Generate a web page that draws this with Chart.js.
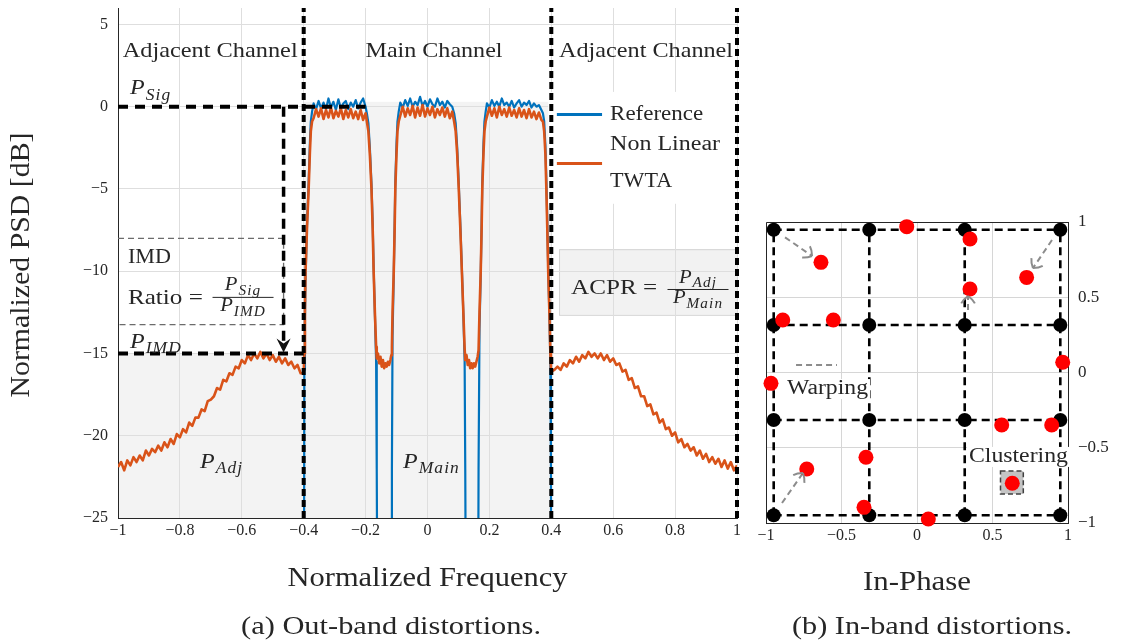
<!DOCTYPE html>
<html>
<head>
<meta charset="utf-8">
<title>Out-band and in-band distortions</title>
<script src="https://cdn.jsdelivr.net/npm/chart.js@4.4.1/dist/chart.umd.min.js"></script>
<style>
  html, body { margin: 0; padding: 0; background: #fff; }
  #psd { position: absolute; left: 0; top: 0; }
  #iq { position: absolute; left: 750px; top: 0; }
</style>
</head>
<body>
<canvas id="psd" width="750" height="643"></canvas>
<canvas id="iq" width="373" height="643"></canvas>
<script>
// ---------- (a) PSD, normalized frequency vs dB ----------
const freqAdjL = [
  -1.00, -0.99, -0.98, -0.97, -0.96, -0.95, -0.94, -0.93, -0.92, -0.91,
  -0.90, -0.89, -0.88, -0.87, -0.86, -0.85, -0.84, -0.83, -0.82, -0.81,
  -0.80, -0.79, -0.78, -0.77, -0.76, -0.75, -0.74, -0.73, -0.72, -0.71,
  -0.70, -0.69, -0.68, -0.67, -0.66, -0.65, -0.64, -0.63, -0.62, -0.61,
  -0.60, -0.59, -0.58, -0.57, -0.56, -0.55, -0.54, -0.53, -0.52, -0.51,
  -0.50, -0.49, -0.48, -0.47, -0.46, -0.45, -0.44, -0.43, -0.42, -0.41
];
const twtaAdjL = [
  -21.9, -21.6, -22.1, -21.5, -21.8, -21.3, -21.6, -21.2, -21.5, -20.9,
  -21.2, -20.8, -21.0, -20.6, -20.9, -20.4, -20.7, -20.2, -20.5, -19.9,
  -20.1, -19.6, -19.8, -19.2, -19.4, -18.9, -18.9, -18.4, -18.5, -17.9,
  -17.8, -17.6, -17.1, -17.2, -16.6, -16.7, -16.2, -16.3, -15.8, -15.9,
  -15.4, -15.6, -15.1, -15.4, -15.0, -15.3, -14.9, -15.3, -15.0, -15.4,
  -15.1, -15.5, -15.2, -15.6, -15.3, -15.7, -15.5, -15.9, -15.7, -16.2
];

// main channel: three carriers and the two gaps between them
const freqMain = [
  -0.400, -0.398, -0.396, -0.394, -0.389, -0.384, -0.380, -0.377, -0.373,
  -0.368, -0.360, -0.352, -0.344, -0.336, -0.328, -0.320, -0.312, -0.304, -0.296, -0.288,
  -0.280, -0.272, -0.264, -0.256, -0.248, -0.240, -0.232, -0.224, -0.216, -0.208, -0.200,
  -0.196, -0.191, -0.186, -0.181, -0.177, -0.174, -0.170, -0.166, -0.164,
  -0.160, -0.156, -0.152, -0.148, -0.144, -0.140, -0.136, -0.132, -0.128, -0.124, -0.120, -0.117, -0.115,
  -0.113, -0.109, -0.106, -0.104, -0.100, -0.097, -0.093,
  -0.088, -0.080, -0.072, -0.064, -0.056, -0.048, -0.040, -0.032, -0.024, -0.016, -0.008,
  0.000, 0.008, 0.016, 0.024, 0.032, 0.040, 0.048, 0.056, 0.064, 0.072, 0.080,
  0.086, 0.091, 0.096, 0.101, 0.106, 0.111, 0.116, 0.120, 0.122,
  0.126, 0.130, 0.134, 0.138, 0.142, 0.146, 0.150, 0.154, 0.158, 0.162, 0.165,
  0.168, 0.172, 0.175, 0.177, 0.181, 0.184, 0.188,
  0.192, 0.200, 0.208, 0.216, 0.224, 0.232, 0.240, 0.248, 0.256, 0.264, 0.272, 0.280,
  0.288, 0.296, 0.304, 0.312, 0.320, 0.328, 0.336, 0.344, 0.352, 0.360, 0.368,
  0.373, 0.377, 0.381, 0.384, 0.387, 0.390, 0.394, 0.397, 0.399, 0.400
];
const twtaMain = [
  -16.2, -15.0, -12.5, -10.0, -7.2, -5.0, -2.8, -1.5, -0.9,
  -0.7, -0.15, -0.6, -0.1, -0.75, -0.2, -0.65, -0.05, -0.7, -0.25, -0.6,
  -0.1, -0.75, -0.2, -0.65, -0.15, -0.7, -0.3, -0.75, -0.2, -0.8, -0.4,
  -0.9, -1.5, -3.0, -5.0, -7.5, -10.0, -12.5, -14.6, -15.3,
  -15.0, -15.6, -15.2, -15.8, -15.4, -15.9, -15.6, -15.8, -15.5, -15.7, -15.4, -15.1, -14.6,
  -12.5, -10.0, -7.3, -5.0, -2.8, -1.5, -0.9,
  -0.55, 0.0, -0.6, -0.1, -0.5, 0.05, -0.65, -0.05, -0.55, 0.1, -0.6,
  -0.1, -0.5, 0.0, -0.65, -0.15, -0.5, -0.05, -0.6, -0.1, -0.7, -0.3,
  -0.9, -1.5, -2.9, -5.0, -7.4, -10.0, -12.6, -14.7, -15.4,
  -15.1, -15.7, -15.4, -15.9, -15.6, -15.9, -15.6, -15.8, -15.5, -15.2, -14.8,
  -12.5, -10.0, -7.3, -5.0, -2.8, -1.5, -0.9,
  -0.6, -0.05, -0.55, -0.1, -0.65, 0.0, -0.5, -0.15, -0.6, -0.05, -0.55, -0.2,
  -0.65, -0.1, -0.6, -0.2, -0.7, -0.15, -0.65, -0.3, -0.75, -0.35, -0.8,
  -0.9, -1.5, -2.9, -5.0, -7.4, -10.0, -12.6, -15.0, -16.0, -16.1
];
const refMain = [
  -40, -16.0, -12.8, -10.3, -7.0, -4.6, -2.2, -0.9, -0.3,
  0.2, -0.15, 0.35, -0.1, 0.25, -0.15, 0.5, -0.05, 0.3, -0.2, 0.45,
  -0.1, 0.2, 0.35, -0.15, 0.25, 0.0, 0.4, -0.1, 0.25, 0.5, 0.0,
  -0.4, -1.0, -2.6, -4.7, -7.2, -9.8, -12.6, -15.5, -22.0,
  -40, -40, -40, -40, -40, -40, -40, -40, -40, -40, -40, -40, -22.0,
  -14.0, -10.2, -7.0, -4.6, -2.2, -0.9, -0.3,
  0.25, -0.05, 0.4, 0.05, 0.5, 0.0, 0.3, 0.1, 0.6, 0.05, 0.35,
  0.0, 0.45, 0.15, 0.0, 0.5, 0.1, 0.3, -0.05, 0.35, 0.15, 0.0,
  -0.4, -1.0, -2.5, -4.7, -7.1, -9.8, -12.7, -15.5, -22.0,
  -40, -40, -40, -40, -40, -40, -40, -40, -40, -40, -22.0,
  -13.5, -10.2, -7.0, -4.6, -2.2, -0.9, -0.3,
  0.2, -0.05, 0.4, 0.05, 0.3, 0.0, 0.5, 0.1, 0.25, 0.0, 0.35, -0.05,
  0.2, 0.4, 0.0, 0.25, 0.1, 0.35, -0.05, 0.2, 0.0, 0.1, -0.2,
  -0.4, -0.9, -2.4, -4.5, -7.0, -9.8, -12.8, -15.5, -22.0, -40
];

const freqAdjR = [
  0.41, 0.42, 0.43, 0.44, 0.45, 0.46, 0.47, 0.48, 0.49, 0.50,
  0.51, 0.52, 0.53, 0.54, 0.55, 0.56, 0.57, 0.58, 0.59, 0.60,
  0.61, 0.62, 0.63, 0.64, 0.65, 0.66, 0.67, 0.68, 0.69, 0.70,
  0.71, 0.72, 0.73, 0.74, 0.75, 0.76, 0.77, 0.78, 0.79, 0.80,
  0.81, 0.82, 0.83, 0.84, 0.85, 0.86, 0.87, 0.88, 0.89, 0.90,
  0.91, 0.92, 0.93, 0.94, 0.95, 0.96, 0.97, 0.98, 0.99, 1.00
];
const twtaAdjR = [
  -16.0, -15.8, -16.0, -15.6, -15.8, -15.4, -15.6, -15.2, -15.5, -15.1,
  -15.3, -14.9, -15.2, -15.0, -15.3, -15.0, -15.4, -15.1, -15.5, -15.3,
  -15.7, -15.6, -16.1, -16.0, -16.6, -16.5, -17.1, -17.0, -17.6, -17.6,
  -18.2, -18.1, -18.7, -18.6, -19.2, -19.0, -19.6, -19.5, -20.0, -19.8,
  -20.4, -20.2, -20.7, -20.5, -20.9, -20.7, -21.2, -20.9, -21.4, -21.1,
  -21.6, -21.3, -21.7, -21.4, -21.9, -21.5, -22.0, -21.6, -22.1, -21.8
];

const freqTicks = [-1, -0.8, -0.6, -0.4, -0.2, 0, 0.2, 0.4, 0.6, 0.8, 1];
const psdTicks = [-25, -20, -15, -10, -5, 0, 5];
const chanEdges = [-0.4, 0.4, 1];   // main channel limits and band end
const pSigLevel = 0;
const pImdLevel = -15;
const imdMarkFreq = -0.465;
const imdBox = [-8.0, -13.25];

// ---------- (b) 16-QAM constellation ----------
const qamLevels = [-0.949, -0.316, 0.316, 0.949];
const rxI = [-0.068, 0.351, -0.636, 0.726, 0.351, -0.889, -0.554, 0.965, -0.967, 0.561, 0.892, -0.338, -0.730, 0.631, -0.351, 0.075];
const rxQ = [0.969, 0.887, 0.732, 0.632, 0.555, 0.349, 0.349, 0.068, -0.072, -0.349, -0.349, -0.563, -0.641, -0.736, -0.896, -0.973];
const arrowFromI = [-0.874, 0.894, 0.338, -0.894];
const arrowFromQ = [0.898, 0.880, 0.415, -0.867];
const arrowToI = [-0.695, 0.768, 0.338, -0.755];
const arrowToQ = [0.774, 0.694, 0.508, -0.668];
const iqTicks = [-1, -0.5, 0, 0.5, 1];

const FONT = '"Liberation Serif", "Times New Roman", serif';
const INK = '#262626';
const WIDE = 1.09;
const BLUE = '#0072BD';
const ORANGE = '#D95319';

function minusFmt(v) {
  const r = Math.round(v * 10) / 10;
  return (r < 0 ? '\u2212' : '') + Math.abs(r);
}

function textWidth(ctx, str, size, italic, spacing) {
  ctx.save();
  ctx.font = (italic ? 'italic ' : '') + size + 'px ' + FONT;
  ctx.letterSpacing = (spacing || 0) + 'px';
  const w = ctx.measureText(str).width;
  ctx.restore();
  return w;
}

// text slightly widened, or squeezed to a given width
function label(ctx, str, x, y, size, o = {}) {
  const raw = textWidth(ctx, str, size, o.italic, o.spacing);
  const sx = o.width ? o.width / raw : WIDE;
  const w = raw * sx;
  const x0 = o.align === 'center' ? x - w / 2 : o.align === 'right' ? x - w : x;
  ctx.save();
  ctx.font = (o.italic ? 'italic ' : '') + size + 'px ' + FONT;
  ctx.letterSpacing = (o.spacing || 0) + 'px';
  ctx.fillStyle = o.color || INK;
  ctx.textAlign = 'left';
  ctx.textBaseline = 'middle';
  ctx.translate(x0, y);
  ctx.scale(sx, 1);
  ctx.fillText(str, 0, 0);
  ctx.restore();
  return w;
}

// P with italic subscript (P_Sig, P_IMD ...)
function pSub(ctx, sub, x, y, size, align) {
  const s = Math.round(size * 0.72);
  const wP = textWidth(ctx, 'P', size, true) * WIDE;
  const wS = textWidth(ctx, sub, s, true, 1) * WIDE;
  const w = wP + 1 + wS;
  const x0 = align === 'center' ? x - w / 2 : x;
  label(ctx, 'P', x0, y, size, { italic: true });
  label(ctx, sub, x0 + wP + 1, y + size * 0.32, s, { italic: true, spacing: 1 });
  return w;
}

function frac(ctx, num, den, cx, cy, size, barW) {
  pSub(ctx, num, cx, cy - size * 0.6, size, 'center');
  pSub(ctx, den, cx, cy + size * 0.5, size, 'center');
  ctx.save();
  ctx.strokeStyle = INK;
  ctx.lineWidth = 1;
  ctx.beginPath();
  ctx.moveTo(cx - barW / 2, cy + 0.5);
  ctx.lineTo(cx + barW / 2, cy + 0.5);
  ctx.stroke();
  ctx.restore();
}

function dashed(data, color, width, dash, order) {
  return {
    data, showLine: true, pointRadius: 0, borderColor: color, borderWidth: width,
    borderDash: dash, clip: false, order
  };
}

function seg(x0, y0, x1, y1) {
  return [{ x: x0, y: y0 }, { x: x1, y: y1 }];
}

// ---------- left chart ----------
const freqAll = freqAdjL.concat(freqMain, freqAdjR);
const twtaAll = twtaAdjL.concat(twtaMain, twtaAdjR);

const psdDecor = {
  id: 'psdDecor',
  beforeDraw(chart) {
    const { ctx, scales: { x, y } } = chart;
    const rect = (x0, x1, y0, y1) => {
      const l = x.getPixelForValue(x0), r = x.getPixelForValue(x1);
      const t = y.getPixelForValue(y1), b = y.getPixelForValue(y0);
      return [l, t, r - l, b - t];
    };
    ctx.save();
    ctx.fillStyle = '#fff';
    ctx.fillRect(0, 0, chart.width, chart.height);
    // integration areas for P_Adj and P_Main
    ctx.fillStyle = '#f3f3f3';
    ctx.fillRect(...rect(-1, chanEdges[0], -25, pImdLevel));
    ctx.fillRect(...rect(chanEdges[0], chanEdges[1], -25, 0.3));
    // ACPR box
    ctx.fillStyle = '#f2f2f2';
    ctx.strokeStyle = '#d4d4d4';
    ctx.lineWidth = 1;
    const a = rect(0.425, 1, -12.65, -8.66);
    ctx.fillRect(...a);
    ctx.strokeRect(a[0] + 0.5, a[1] + 0.5, a[2], a[3]);
    ctx.restore();
  },
  beforeDatasetsDraw(chart) {
    const { ctx, scales: { x, y } } = chart;
    // legend background
    const l = x.getPixelForValue(0.39), r = x.getPixelForValue(0.995);
    const t = y.getPixelForValue(0.9), b = y.getPixelForValue(-5.9);
    ctx.save();
    ctx.fillStyle = '#fff';
    ctx.fillRect(l, t, r - l, b - t);
    ctx.restore();
  },
  afterDatasetsDraw(chart) {
    const { ctx, scales: { x, y } } = chart;
    const X = v => x.getPixelForValue(v);
    const Y = v => y.getPixelForValue(v);

    // arrow head on the IMD marker
    const tx = X(imdMarkFreq), ty = Y(pImdLevel) - 1;
    ctx.save();
    ctx.fillStyle = '#111';
    ctx.beginPath();
    ctx.moveTo(tx, ty);
    ctx.lineTo(tx - 7, ty - 14);
    ctx.lineTo(tx, ty - 9);
    ctx.lineTo(tx + 7, ty - 14);
    ctx.closePath();
    ctx.fill();
    ctx.restore();

    label(ctx, 'Adjacent Channel', X(-0.985), Y(3.4), 22, { width: 175 });
    label(ctx, 'Main Channel', X(0.021), Y(3.4), 22, { align: 'center', width: 137 });
    label(ctx, 'Adjacent Channel', X(0.425), Y(3.4), 22, { width: 174 });

    pSub(ctx, 'Sig', X(-0.961), Y(1.1), 22);
    label(ctx, 'IMD', X(-0.968), Y(-9.2), 20, { width: 43 });
    label(ctx, 'Ratio =', X(-0.968), Y(-11.62), 22, { width: 75 });
    frac(ctx, 'Sig', 'IMD', X(-0.596), Y(-11.56), 19, 61);
    pSub(ctx, 'IMD', X(-0.961), Y(-14.3), 22);
    pSub(ctx, 'Adj', X(-0.735), Y(-21.6), 22);
    pSub(ctx, 'Main', X(-0.079), Y(-21.6), 22);

    label(ctx, 'ACPR =', X(0.464), Y(-11.02), 22, { width: 86 });
    frac(ctx, 'Adj', 'Main', X(0.874), Y(-11.08), 19, 61);

    // legend
    ctx.save();
    ctx.lineWidth = 3;
    ctx.strokeStyle = BLUE;
    ctx.beginPath();
    ctx.moveTo(X(0.418), Y(-0.48));
    ctx.lineTo(X(0.564), Y(-0.48));
    ctx.stroke();
    ctx.strokeStyle = ORANGE;
    ctx.beginPath();
    ctx.moveTo(X(0.418), Y(-3.45));
    ctx.lineTo(X(0.564), Y(-3.45));
    ctx.stroke();
    ctx.restore();
    label(ctx, 'Reference', X(0.59), Y(-0.48), 20, { width: 93 });
    label(ctx, 'Non Linear', X(0.59), Y(-2.3), 20, { width: 110 });
    label(ctx, 'TWTA', X(0.59), Y(-4.54), 20, { width: 62 });
  },
  afterDraw(chart) {
    const ctx = chart.ctx;
    const a = chart.chartArea;
    const mid = (a.left + a.right) / 2;
    ctx.save();
    ctx.translate(22, (a.top + a.bottom) / 2 + 2);
    ctx.rotate(-Math.PI / 2);
    label(ctx, 'Normalized PSD [dB]', 0, 0, 28, { align: 'center', width: 265 });
    ctx.restore();
    label(ctx, 'Normalized Frequency', mid, 579, 28, { align: 'center', width: 280 });
    label(ctx, '(a) Out-band distortions.', 391, 627, 25, { align: 'center', width: 300 });
  }
};

new Chart(document.getElementById('psd'), {
  type: 'scatter',
  data: {
    datasets: [
      {
        label: 'Non Linear TWTA',
        data: freqAll.map((f, i) => ({ x: f, y: twtaAll[i] })),
        showLine: true, pointRadius: 0, borderColor: ORANGE, borderWidth: 2.6,
        borderJoinStyle: 'round', clip: 0, order: 2
      },
      {
        label: 'Reference',
        data: freqMain.map((f, i) => ({ x: f, y: refMain[i] })),
        showLine: true, pointRadius: 0, borderColor: BLUE, borderWidth: 2.2,
        borderJoinStyle: 'round', clip: 0, order: 3
      },
      // channel boundaries
      ...chanEdges.map(e => dashed(seg(e, -25, e, 6), '#000', 4, [7, 4], 1)),
      dashed(seg(-1, pSigLevel, -0.2, pSigLevel), '#000', 4, [10, 7], 1),
      dashed(seg(-1, pImdLevel, chanEdges[0], pImdLevel), '#000', 4, [10, 6], 1),
      dashed(seg(imdMarkFreq, pSigLevel, imdMarkFreq, pImdLevel + 0.6), '#000', 3.5, [10, 6], 1),
      dashed([
        { x: -1, y: imdBox[0] }, { x: imdMarkFreq, y: imdBox[0] },
        { x: imdMarkFreq, y: imdBox[1] }, { x: -1, y: imdBox[1] }
      ], '#6b6b6b', 1.3, [6, 4], 1)
    ]
  },
  options: {
    responsive: false,
    animation: false,
    events: [],
    layout: { padding: { left: 0, right: 13, top: 8, bottom: 98 } },
    plugins: { legend: { display: false }, tooltip: { enabled: false } },
    scales: {
      x: {
        type: 'linear', min: -1, max: 1,
        afterFit: s => { s.height = 27; },
        afterBuildTicks: s => { s.ticks = freqTicks.map(v => ({ value: v })); },
        grid: { color: '#dedede', drawTicks: false },
        border: { color: INK, width: 1 },
        ticks: { padding: 5, maxRotation: 0, autoSkip: false, color: INK,
          font: { family: FONT, size: 16, lineHeight: 1 }, callback: minusFmt }
      },
      y: {
        type: 'linear', min: -25, max: 6,
        afterFit: s => { s.width = 118; },
        afterBuildTicks: s => { s.ticks = psdTicks.map(v => ({ value: v })); },
        grid: { color: '#dedede', drawTicks: true, tickLength: 10, tickColor: 'rgba(0,0,0,0)' },
        border: { color: INK, width: 1 },
        ticks: { padding: 0, color: INK, font: { family: FONT, size: 16, lineHeight: 1 }, callback: minusFmt }
      }
    }
  },
  plugins: [psdDecor]
});

// ---------- right chart ----------
const idealPts = [];
qamLevels.forEach(q => qamLevels.forEach(i => idealPts.push({ x: i, y: q })));

const iqDecor = {
  id: 'iqDecor',
  beforeDraw(chart) {
    const ctx = chart.ctx;
    ctx.save();
    ctx.fillStyle = '#fff';
    ctx.fillRect(0, 0, chart.width, chart.height);
    ctx.restore();
  },
  beforeDatasetsDraw(chart) {
    const { ctx, chartArea: a, scales: { x, y } } = chart;
    ctx.save();
    ctx.strokeStyle = INK;
    ctx.lineWidth = 1;
    ctx.beginPath();
    ctx.moveTo(a.left + 0.5, a.bottom);
    ctx.lineTo(a.left + 0.5, a.top + 0.5);
    ctx.lineTo(a.right, a.top + 0.5);
    ctx.stroke();
    // clustering marker box
    const l = x.getPixelForValue(0.553), r = x.getPixelForValue(0.704);
    const t = y.getPixelForValue(-0.655), b = y.getPixelForValue(-0.807);
    ctx.fillStyle = '#c4c4c4';
    ctx.fillRect(l, t, r - l, b - t);
    ctx.strokeStyle = '#404040';
    ctx.lineWidth = 1.5;
    ctx.setLineDash([5, 3]);
    ctx.strokeRect(l, t, r - l, b - t);
    ctx.restore();
  },
  afterDatasetsDraw(chart) {
    const { ctx, scales: { x, y } } = chart;
    // arrow heads
    ctx.save();
    ctx.strokeStyle = '#8c8c8c';
    ctx.lineWidth = 2;
    arrowToI.forEach((ti, k) => {
      const px = x.getPixelForValue(ti), py = y.getPixelForValue(arrowToQ[k]);
      const fx = x.getPixelForValue(arrowFromI[k]), fy = y.getPixelForValue(arrowFromQ[k]);
      const ang = Math.atan2(py - fy, px - fx);
      ctx.beginPath();
      for (const s of [-1, 1]) {
        const b = ang + Math.PI + s * 0.75;
        ctx.moveTo(px, py);
        ctx.quadraticCurveTo(px + 6 * Math.cos(b + s * 0.2), py + 6 * Math.sin(b + s * 0.2),
          px + 10 * Math.cos(b), py + 10 * Math.sin(b));
      }
      ctx.stroke();
    });
    ctx.restore();

    // labels on white patches
    const tag = (str, xv, yv, w) => {
      const px = x.getPixelForValue(xv), py = y.getPixelForValue(yv);
      ctx.save();
      ctx.fillStyle = '#fff';
      ctx.fillRect(px - 2, py - 10, w + 4, 20);
      ctx.restore();
      label(ctx, str, px, py, 20, { width: w });
    };
    tag('Warping', -0.861, -0.11, 81);
    tag('Clustering', 0.344, -0.561, 99);
  },
  afterDraw(chart) {
    const ctx = chart.ctx;
    const a = chart.chartArea;
    label(ctx, 'In-Phase', (a.left + a.right) / 2, 583, 28, { align: 'center', width: 108 });
    label(ctx, '(b) In-band distortions.', 182, 627, 25, { align: 'center', width: 280 });
  }
};

const qamGrid = [];
qamLevels.forEach(v => {
  qamGrid.push(dashed(seg(qamLevels[0], v, qamLevels[3], v), '#000', 2.6, [8, 5], 4));
  qamGrid.push(dashed(seg(v, qamLevels[0], v, qamLevels[3]), '#000', 2.6, [8, 5], 4));
});

new Chart(document.getElementById('iq'), {
  type: 'scatter',
  data: {
    datasets: [
      ...qamGrid,
      ...arrowToI.map((ti, k) => dashed(seg(arrowFromI[k], arrowFromQ[k], ti, arrowToQ[k]), '#8c8c8c', 2, [6, 4], 3)),
      dashed(seg(-0.801, 0.05, -0.53, 0.05), '#8c8c8c', 2, [6, 4], 3),
      { label: 'Ideal', data: idealPts, pointRadius: 7, backgroundColor: '#000', borderWidth: 0, order: 2 },
      { label: 'Received', data: rxI.map((v, i) => ({ x: v, y: rxQ[i] })), pointRadius: 7.5,
        backgroundColor: '#ff0000', borderWidth: 0, order: 1, clip: false }
    ]
  },
  options: {
    responsive: false,
    animation: false,
    events: [],
    layout: { padding: { left: 16, right: 0, top: 222, bottom: 98 } },
    plugins: { legend: { display: false }, tooltip: { enabled: false } },
    scales: {
      x: {
        type: 'linear', min: -1, max: 1,
        afterFit: s => { s.height = 22; },
        afterBuildTicks: s => { s.ticks = iqTicks.map(v => ({ value: v })); },
        grid: { color: '#d6d6d6', drawTicks: false },
        border: { color: INK, width: 1 },
        ticks: { padding: 5, maxRotation: 0, autoSkip: false, color: INK,
          font: { family: FONT, size: 16, lineHeight: 1 }, callback: minusFmt }
      },
      y: {
        type: 'linear', position: 'right', min: -1, max: 1,
        afterFit: s => { s.width = 55; },
        afterBuildTicks: s => { s.ticks = iqTicks.map(v => ({ value: v })); },
        grid: { color: '#d6d6d6', drawTicks: true, tickLength: 10, tickColor: 'rgba(0,0,0,0)' },
        border: { color: INK, width: 1 },
        ticks: { padding: 0, color: INK, font: { family: FONT, size: 17, lineHeight: 1 }, callback: minusFmt }
      }
    }
  },
  plugins: [iqDecor]
});
</script>
</body>
</html>
